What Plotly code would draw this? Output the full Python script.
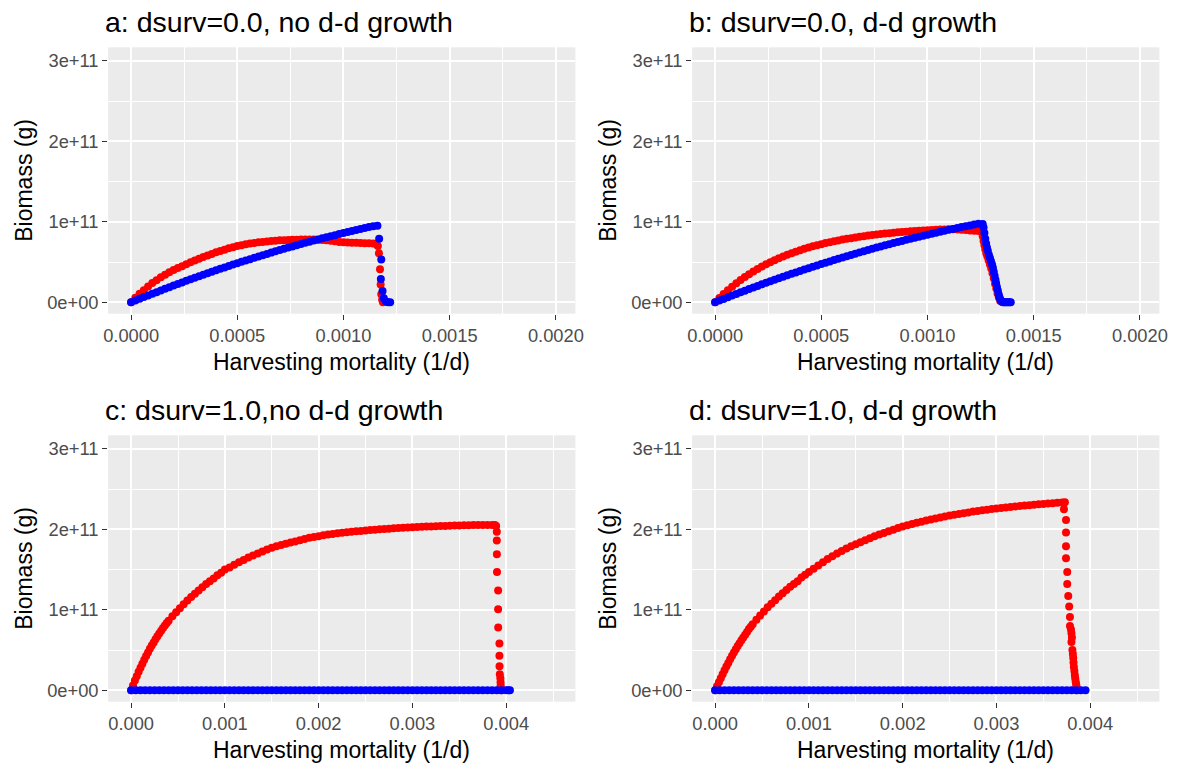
import plotly.graph_objects as go

# ---------------- data (x in 1e-3 1/d, y in 1e11 g) ----------------
grid_fine = [0.00, 0.02, 0.04, 0.06, 0.08, 0.10, 0.12, 0.14, 0.16, 0.18,
             0.20, 0.22, 0.24, 0.26, 0.28, 0.30, 0.32, 0.34, 0.36, 0.38,
             0.40, 0.42, 0.44, 0.46, 0.48, 0.50, 0.52, 0.54, 0.56, 0.58,
             0.60, 0.62, 0.64, 0.66, 0.68, 0.70, 0.72, 0.74, 0.76, 0.78,
             0.80, 0.82, 0.84, 0.86, 0.88, 0.90, 0.92, 0.94, 0.96, 0.98,
             1.00, 1.02, 1.04, 1.06, 1.08, 1.10, 1.12, 1.14, 1.16, 1.18,
             1.20, 1.22, 1.24]

# panel a
a_red_y = [0, .055, .105, .150, .195, .240, .275, .310, .342, .372,
           .400, .425, .449, .472, .496, .520, .541, .562, .582, .601,
           .620, .637, .654, .670, .685, .700, .710, .720, .729, .737,
           .745, .750, .755, .760, .765, .770, .772, .774, .776, .778,
           .780, .780, .780, .779, .778, .775, .770, .765, .758, .750,
           .745, .742, .740, .738, .736, .734, .732, .730]
a_red_drop_x = [1.155, 1.162, 1.167, 1.172, 1.175, 1.178, 1.182, 1.186]
a_red_drop_y = [.725, .70, .61, .41, .22, .10, .03, 0.0]
a_blue_y = [0, .022, .043, .064, .085, .106, .126, .147, .167, .187,
            .207, .227, .247, .266, .285, .304, .323, .342, .360, .379,
            .397, .415, .433, .450, .468, .485, .502, .519, .536, .552,
            .569, .585, .601, .617, .633, .648, .664, .679, .694, .709,
            .723, .738, .752, .766, .780, .794, .807, .821, .834, .847,
            .860, .873, .885, .898, .910, .922, .934, .945, .950]
a_blue_drop_x = [1.168, 1.178, 1.176, 1.184, 1.190, 1.200, 1.210, 1.220]
a_blue_drop_y = [.79, .53, .29, .14, .05, .01, 0.0, 0.0]

# panel b
b_red_y = [0, .053, .103, .150, .194, .236, .276, .313, .349, .382,
           .414, .443, .472, .498, .523, .547, .569, .590, .610, .629,
           .647, .664, .680, .695, .709, .722, .735, .747, .758, .769,
           .779, .788, .797, .806, .814, .821, .829, .835, .842, .848,
           .853, .859, .864, .869, .873, .877, .881, .885, .889, .892,
           .896, .899, .901, .903, .905, .906, .906, .905, .902, .898,
           .893, .889, .886]
b_red_drop_x = [1.255, 1.260, 1.264, 1.268, 1.272, 1.277, 1.282, 1.288, 1.294,
                1.300, 1.306, 1.312, 1.318, 1.324, 1.330, 1.336, 1.342]
b_red_drop_y = [.88, .82, .76, .71, .66, .61, .57, .52, .47,
                .42, .36, .30, .23, .17, .11, .06, .02]
b_blue_y = [0, .021, .042, .063, .083, .104, .124, .144, .164, .184,
            .203, .223, .242, .261, .280, .298, .317, .335, .353, .371,
            .389, .406, .424, .441, .458, .475, .492, .508, .525, .541,
            .557, .573, .588, .604, .619, .634, .649, .664, .679, .693,
            .707, .721, .735, .749, .762, .776, .789, .802, .815, .828,
            .840, .852, .864, .876, .888, .900, .911, .923, .934, .945,
            .955, .966, .976]
b_blue_drop_x = [1.260, 1.264, 1.268, 1.272, 1.276, 1.280, 1.284, 1.289, 1.294, 1.299,
                 1.304, 1.308, 1.312, 1.316, 1.320, 1.323, 1.327, 1.331, 1.335, 1.338,
                 1.342, 1.346, 1.350, 1.356, 1.362, 1.368, 1.374, 1.380, 1.386, 1.392]
b_blue_drop_y = [.973, .93, .86, .79, .73, .68, .64, .59, .55, .51,
                 .47, .43, .38, .33, .28, .235, .19, .145, .10, .07,
                 .04, .02, .005, 0, 0, 0, 0, 0, 0, 0]

# panels c and d shared x grids
grid_start = [0.00, 0.02, 0.04, 0.06, 0.08, 0.10, 0.12, 0.14, 0.16, 0.18,
              0.20, 0.22, 0.24, 0.26, 0.28, 0.30, 0.32, 0.34, 0.36, 0.38,
              0.40, 0.44, 0.48, 0.52, 0.56, 0.60, 0.64, 0.68, 0.72, 0.76,
              0.80, 0.84, 0.88, 0.92, 0.96, 1.00]
grid_main = [1.05, 1.10, 1.15, 1.20, 1.25, 1.30, 1.35, 1.40, 1.45, 1.50,
             1.55, 1.60, 1.65, 1.70, 1.75, 1.80, 1.85, 1.90, 1.95, 2.00,
             2.05, 2.10, 2.15, 2.20, 2.25, 2.30, 2.35, 2.40, 2.45, 2.50,
             2.55, 2.60, 2.65, 2.70, 2.75, 2.80, 2.85, 2.90, 2.95, 3.00,
             3.05, 3.10, 3.15, 3.20, 3.25, 3.30, 3.35, 3.40, 3.45, 3.50,
             3.55, 3.60, 3.65, 3.70, 3.75, 3.80, 3.85]
grid_zero = [0.00, 0.05, 0.10, 0.15, 0.20, 0.25, 0.30, 0.35, 0.40, 0.45,
             0.50, 0.55, 0.60, 0.65, 0.70, 0.75, 0.80, 0.85, 0.90, 0.95,
             1.00, 1.05, 1.10, 1.15, 1.20, 1.25, 1.30, 1.35, 1.40, 1.45,
             1.50, 1.55, 1.60, 1.65, 1.70, 1.75, 1.80, 1.85, 1.90, 1.95,
             2.00, 2.05, 2.10, 2.15, 2.20, 2.25, 2.30, 2.35, 2.40, 2.45,
             2.50, 2.55, 2.60, 2.65, 2.70, 2.75, 2.80, 2.85, 2.90, 2.95,
             3.00, 3.05, 3.10, 3.15, 3.20, 3.25, 3.30, 3.35, 3.40, 3.45,
             3.50, 3.55, 3.60, 3.65, 3.70, 3.75, 3.80, 3.85, 3.90, 3.95,
             4.00]
zero_vals = [0, 0, 0, 0, 0, 0, 0, 0, 0, 0, 0, 0, 0, 0, 0, 0, 0, 0, 0, 0,
             0, 0, 0, 0, 0, 0, 0, 0, 0, 0, 0, 0, 0, 0, 0, 0, 0, 0, 0, 0,
             0, 0, 0, 0, 0, 0, 0, 0, 0, 0, 0, 0, 0, 0, 0, 0, 0, 0, 0, 0,
             0, 0, 0, 0, 0, 0, 0, 0, 0, 0, 0, 0, 0, 0, 0, 0, 0, 0, 0, 0,
             0, 0, 0]

# panel c
c_red_start_y = [0, .06, .12, .175, .23, .28, .33, .38, .425, .47,
                 .515, .555, .595, .635, .67, .705, .74, .775, .805, .835,
                 .865, .92, .97, 1.02, 1.07, 1.115, 1.16, 1.20, 1.24, 1.28,
                 1.32, 1.355, 1.39, 1.43, 1.46, 1.50]
c_red_main_y = [1.525, 1.56, 1.59, 1.62, 1.65, 1.675, 1.70, 1.725, 1.75, 1.77,
                1.79, 1.805, 1.82, 1.835, 1.85, 1.865, 1.88, 1.895, 1.905, 1.915,
                1.925, 1.935, 1.942, 1.95, 1.957, 1.963, 1.969, 1.975, 1.98, 1.985,
                1.99, 1.995, 2.0, 2.004, 2.008, 2.012, 2.016, 2.02, 2.023, 2.026,
                2.029, 2.032, 2.034, 2.036, 2.038, 2.04, 2.042, 2.044, 2.046, 2.048,
                2.05, 2.051, 2.052, 2.053, 2.054, 2.055, 2.055]
c_red_drop_x = [3.88, 3.893, 3.900, 3.900, 3.901, 3.902, 3.914, 3.914, 3.915, 3.928,
                3.928, 3.929, 3.932, 3.938, 3.940, 3.941, 3.942, 3.944]
c_red_drop_y = [2.055, 2.04, 1.97, 1.86, 1.69, 1.47, 1.24, 1.006, 0.78, 0.58,
                0.43, 0.30, 0.20, 0.15, 0.10, 0.06, 0.03, 0.0]
c_blue_tail_x = [4.02, 4.04]

# panel d
d_red_start_y = [0, .05, .10, .15, .20, .25, .295, .34, .385, .43,
                 .47, .51, .55, .585, .62, .655, .69, .725, .76, .79,
                 .82, .875, .93, .98, 1.03, 1.075, 1.12, 1.165, 1.205, 1.245,
                 1.285, 1.32, 1.355, 1.40, 1.435, 1.47]
d_red_main_y = [1.51, 1.55, 1.59, 1.63, 1.665, 1.70, 1.73, 1.76, 1.79, 1.815,
                1.84, 1.865, 1.89, 1.915, 1.935, 1.955, 1.975, 1.995, 2.015, 2.035,
                2.05, 2.065, 2.08, 2.095, 2.11, 2.122, 2.134, 2.146, 2.158, 2.17,
                2.18, 2.19, 2.20, 2.21, 2.22, 2.228, 2.236, 2.244, 2.252, 2.26,
                2.266, 2.272, 2.278, 2.284, 2.29, 2.295, 2.30, 2.305, 2.31, 2.315,
                2.32, 2.325, 2.33, 2.333]
d_red_drop_x = [3.73, 3.72, 3.742, 3.742, 3.742, 3.742, 3.755, 3.755, 3.766, 3.776,
                3.784, 3.784, 3.795, 3.80, 3.80, 3.805, 3.81, 3.815, 3.819, 3.822,
                3.826, 3.831, 3.836, 3.84, 3.845, 3.85, 3.854, 3.86]
d_red_drop_y = [2.335, 2.25, 2.115, 1.96, 1.79, 1.64, 1.47, 1.32, 1.17, 1.04,
                0.91, 0.80, 0.755, 0.71, 0.60, 0.655, 0.50, 0.45, 0.40, 0.345,
                0.29, 0.24, 0.19, 0.15, 0.11, 0.075, 0.045, 0.0]
d_blue_tail_x = [3.95]

titles = ["a: dsurv=0.0, no d-d growth", "b: dsurv=0.0, d-d growth",
          "c: dsurv=1.0,no d-d growth", "d: dsurv=1.0, d-d growth"]
x_title = "Harvesting mortality (1/d)"
y_title = "Biomass (g)"
y_tick_vals = [0, 1e11, 2e11, 3e11]
y_tick_text = ["0e+00", "1e+11", "2e+11", "3e+11"]
x_tick_vals_top = [0, 0.0005, 0.001, 0.0015, 0.002]
x_tick_text_top = ["0.0000", "0.0005", "0.0010", "0.0015", "0.0020"]
x_tick_vals_bot = [0, 0.001, 0.002, 0.003, 0.004]
x_tick_text_bot = ["0.000", "0.001", "0.002", "0.003", "0.004"]

# ---------------- assemble series ----------------
series = {
    1: (grid_fine[:58] + a_red_drop_x, a_red_y + a_red_drop_y,
        grid_fine[:59] + a_blue_drop_x, a_blue_y + a_blue_drop_y),
    2: (grid_fine[:63] + b_red_drop_x, b_red_y + b_red_drop_y,
        grid_fine[:63] + b_blue_drop_x, b_blue_y + b_blue_drop_y),
    3: (grid_start + grid_main + c_red_drop_x, c_red_start_y + c_red_main_y + c_red_drop_y,
        grid_zero + c_blue_tail_x, zero_vals[:83]),
    4: (grid_start + grid_main[:54] + d_red_drop_x, d_red_start_y + d_red_main_y + d_red_drop_y,
        grid_zero[:79] + d_blue_tail_x, zero_vals[:80]),
}

MS = 8
fig = go.Figure()
for k, (rx, ry, bx, by) in series.items():
    assert len(rx) == len(ry) and len(bx) == len(by), k
    ax = "" if k == 1 else str(k)
    fig.add_trace(go.Scatter(x=[v * 1e-3 for v in rx], y=[v * 1e11 for v in ry],
                             mode="markers", xaxis="x" + ax, yaxis="y" + ax,
                             marker=dict(color="#FF0000", size=MS, line=dict(width=0)),
                             showlegend=False, hoverinfo="x+y"))
    fig.add_trace(go.Scatter(x=[v * 1e-3 for v in bx], y=[v * 1e11 for v in by],
                             mode="markers", xaxis="x" + ax, yaxis="y" + ax,
                             marker=dict(color="#0000FF", size=MS, line=dict(width=0)),
                             showlegend=False, hoverinfo="x+y"))

W, H = 1186, 767
FONT = "Liberation Sans, Arial, sans-serif"
left_px = [104.3, 694.8]
right_px = [576.7, 1167.2]
top_px = [47.3, 435.3]
bot_px = [313.7, 701.7]

axis_common = dict(
    showline=False, zeroline=False, gridcolor="white", gridwidth=1.7,
    ticks="outside", ticklen=5, tickwidth=1.3, tickcolor="#333333",
    tickfont=dict(family=FONT, size=18.3, color="#4D4D4D"),
    showspikes=False,
)

layout = dict(width=W, height=H, margin=dict(l=0, r=0, t=0, b=0),
              paper_bgcolor="white", plot_bgcolor="#EBEBEB",
              font=dict(family=FONT), annotations=[])

for k in range(1, 5):
    col = (k - 1) % 2
    row = (k - 1) // 2
    ax = "" if k == 1 else str(k)
    xdom = [left_px[col] / W, right_px[col] / W]
    ydom = [1 - bot_px[row] / H, 1 - top_px[row] / H]
    if row == 0:
        xr = [-0.000108, 0.002092]
        tv, tt = x_tick_vals_top, x_tick_text_top
        minor_x = [0.00025, 0.00075, 0.00125, 0.00175]
    else:
        xr = [-0.000245, 0.004738]
        tv, tt = x_tick_vals_bot, x_tick_text_bot
        minor_x = [0.0005, 0.0015, 0.0025, 0.0035, 0.0045]
    layout["xaxis" + ax] = dict(axis_common, domain=xdom, range=xr, anchor="y" + ax,
                                tickmode="array", tickvals=tv, ticktext=tt,
                                minor=dict(tickmode="array", tickvals=minor_x, showgrid=True,
                                           gridcolor="white", gridwidth=0.9, ticks=""))
    layout["yaxis" + ax] = dict(axis_common, domain=ydom, range=[-0.142e11, 3.168e11],
                                anchor="x" + ax, tickmode="array",
                                tickvals=y_tick_vals, ticktext=y_tick_text,
                                minor=dict(tickmode="array", tickvals=[0.5e11, 1.5e11, 2.5e11],
                                           showgrid=True, gridcolor="white", gridwidth=0.9,
                                           ticks=""))
    # panel title
    layout["annotations"].append(dict(
        text=titles[k - 1], xref="paper", yref="paper",
        x=(left_px[col] - 5.5) / W, y=1 - (22 + 388 * row) / H,
        xanchor="left", yanchor="middle", showarrow=False,
        font=dict(family=FONT, size=28.5, color="black")))
    # x axis title
    layout["annotations"].append(dict(
        text=x_title, xref="paper", yref="paper",
        x=(left_px[col] + right_px[col]) / 2 / W, y=1 - (362 + 388 * row) / H,
        xanchor="center", yanchor="middle", showarrow=False,
        font=dict(family=FONT, size=23, color="black")))
    # y axis title
    layout["annotations"].append(dict(
        text=y_title, xref="paper", yref="paper", textangle=-90,
        x=(18.5 + 590.5 * col) / W, y=1 - ((top_px[row] + bot_px[row]) / 2) / H,
        xanchor="center", yanchor="middle", showarrow=False,
        font=dict(family=FONT, size=23, color="black")))

fig.update_layout(**layout)
fig.write_html("out.html",
               config={"displayModeBar": False},
               post_script="document.body.style.margin='0';"
                           "document.body.style.overflow='hidden';")
